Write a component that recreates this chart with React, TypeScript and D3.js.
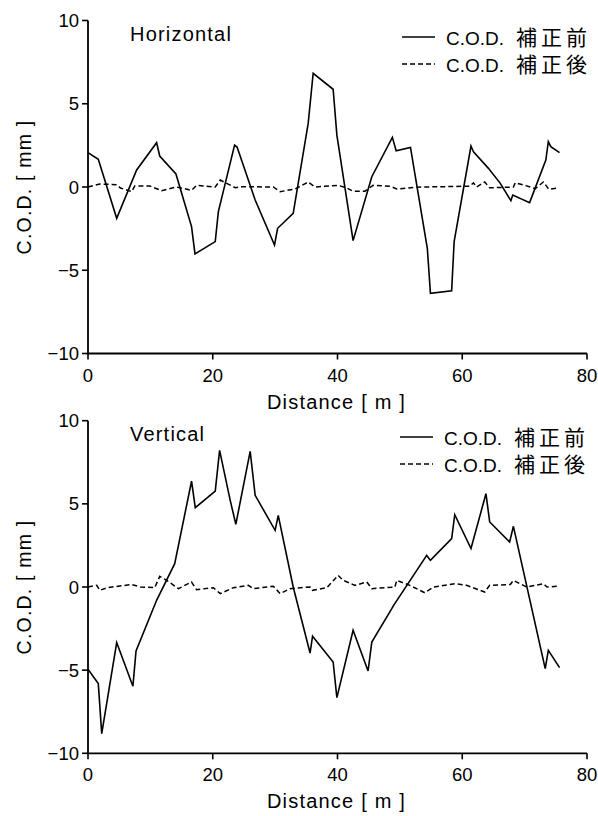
import React from "react";
import * as d3 from "d3";

// distance [m] / C.O.D. [mm] pairs
const horizBeforeX = [0, 1.65, 4.6, 7.8, 11.0, 11.5, 14.1, 16.6, 17.15, 20.4, 20.9, 23.5, 23.9, 26.8, 29.9, 30.4, 32.9, 35.3, 36.1, 39.3, 39.9, 42.5, 45.5, 48.8, 49.4, 51.7, 54.4, 54.9, 58.3, 58.7, 61.4, 61.8, 64.2, 66.1, 67.8, 68.1, 70.8, 73.4, 73.8, 74.2, 75.6];
const horizBeforeY = [2.06, 1.66, -1.88, 1.02, 2.66, 1.86, 0.78, -2.38, -4.02, -3.28, -1.48, 2.52, 2.4, -0.78, -3.48, -2.48, -1.58, 3.82, 6.83, 5.87, 3.12, -3.22, 0.62, 2.98, 2.18, 2.38, -3.68, -6.39, -6.23, -3.28, 2.46, 2.12, 1.12, 0.22, -0.82, -0.48, -0.94, 1.62, 2.72, 2.42, 2.06];
const horizAfterX = [0, 1.9, 4.6, 5.2, 7.0, 7.5, 9.9, 11.8, 14.2, 16.6, 17.4, 20.4, 21.2, 23.6, 24.5, 29.7, 30.8, 33.2, 35.3, 36.4, 40.1, 41.5, 42.5, 44.4, 45.7, 48.4, 49.5, 52.7, 61.2, 61.8, 62.3, 63.6, 64.4, 68.2, 68.5, 70.9, 71.7, 73.0, 73.9, 75.4];
const horizAfterY = [0, 0.18, 0.14, -0.06, -0.28, 0.06, 0.06, -0.22, 0, -0.2, 0.1, 0, 0.42, -0.04, 0.02, 0, -0.28, -0.12, 0.3, 0, 0.1, -0.06, -0.25, -0.25, 0.1, 0.05, -0.12, -0.01, 0.05, 0.25, 0, 0.3, -0.05, 0, 0.26, 0, -0.1, 0.3, -0.14, -0.06];

const vertBeforeX = [0, 1.65, 2.2, 4.6, 7.2, 7.7, 11.0, 13.9, 16.6, 17.2, 20.4, 21.1, 22.8, 23.7, 26.0, 26.8, 30.0, 30.5, 32.9, 35.6, 36.0, 39.3, 39.9, 42.5, 44.9, 45.5, 48.7, 49.0, 54.3, 54.9, 58.3, 58.8, 61.4, 63.8, 64.4, 67.6, 68.2, 73.3, 73.8, 75.6];
const vertBeforeY = [-4.95, -5.81, -8.82, -3.34, -5.97, -3.85, -0.8, 1.4, 6.36, 4.77, 5.77, 8.22, 5.21, 3.77, 8.16, 5.51, 3.41, 4.31, 0, -3.97, -2.96, -4.51, -6.65, -2.6, -5.05, -3.31, -1.3, -1.1, 1.9, 1.6, 2.91, 4.35, 2.31, 5.61, 3.91, 2.71, 3.65, -4.91, -3.81, -4.85];
const vertAfterX = [0, 1.4, 1.9, 3.1, 7.0, 8.4, 10.7, 11.5, 12.6, 14.5, 16.6, 17.4, 20.1, 21.2, 23.3, 25.7, 26.5, 29.7, 30.8, 32.4, 35.6, 36.0, 38.3, 40.1, 40.9, 42.8, 44.7, 45.5, 49.2, 49.5, 51.6, 54.0, 55.4, 58.8, 60.7, 63.6, 64.4, 67.7, 68.2, 70.3, 73.0, 73.6, 75.4];
const vertAfterY = [0, 0.1, -0.2, -0.04, 0.15, 0, -0.04, 0.64, 0.4, -0.1, 0.3, -0.16, -0.04, -0.4, -0.04, 0.1, -0.1, 0.05, -0.4, -0.1, 0, -0.2, -0.04, 0.7, 0.4, 0.1, 0.3, -0.1, 0, 0.4, 0.1, -0.35, 0, 0.2, 0.1, -0.3, 0.1, 0.15, 0.4, 0, 0.2, 0, 0.05];

const xTicks = [0, 20, 40, 60, 80];
const yTicks = [-10, -5, 0, 5, 10];
const legendLabels = ["C.O.D.", "補正前", "補正後"];

const FONT = "'Liberation Sans', 'Noto Sans CJK JP', sans-serif";

type PanelProps = {
  top: number;
  bottom: number;
  title: string;
  before: [number, number][];
  after: [number, number][];
  legendX: number;
  legendY: number;
};

const zip = (xs: number[], ys: number[]) => xs.map((x, i) => [x, ys[i]] as [number, number]);

const Panel = ({ top, bottom, title, before, after, legendX, legendY }: PanelProps) => {
  const x = d3.scaleLinear().domain([0, 80]).range([88, 587]);
  const y = d3.scaleLinear().domain([-10, 10]).range([bottom, top]);
  const line = d3
    .line<[number, number]>()
    .x((d) => x(d[0]))
    .y((d) => y(d[1]));

  return (
    <g fontFamily={FONT} fill="#000">
      <path d={line(after) || ""} fill="none" stroke="#000" strokeWidth={1.5} strokeDasharray="5,3" />
      <path d={line(before) || ""} fill="none" stroke="#000" strokeWidth={1.6} />

      {/* axes */}
      <line x1={x(0)} x2={x(0)} y1={top} y2={bottom} stroke="#000" strokeWidth={1.8} />
      <line x1={x(0)} x2={x(80)} y1={bottom} y2={bottom} stroke="#000" strokeWidth={1.8} />
      {yTicks.map((t) => (
        <g key={"y" + t}>
          <line x1={x(0) - 6} x2={x(0)} y1={y(t)} y2={y(t)} stroke="#000" strokeWidth={1.6} />
          <text x={79} y={y(t) + 6.5} textAnchor="end" fontSize={18.5}>
            {t < 0 ? "\u2212" + Math.abs(t) : t}
          </text>
        </g>
      ))}
      {xTicks.map((t) => (
        <g key={"x" + t}>
          <line x1={x(t)} x2={x(t)} y1={bottom} y2={bottom + 6} stroke="#000" strokeWidth={1.6} />
          <text x={x(t)} y={bottom + 28} textAnchor="middle" fontSize={18.5}>
            {t}
          </text>
        </g>
      ))}

      <text x={336.5} y={bottom + 55} textAnchor="middle" fontSize={20} letterSpacing={1.2}>
        Distance [ m ]
      </text>
      <text
        transform={`translate(31,${(top + bottom) / 2}) rotate(-90)`}
        textAnchor="middle"
        fontSize={19.5}
        letterSpacing={1.2}
      >
        C.O.D. [ mm ]
      </text>
      <text x={130} y={top + 20} fontSize={20} letterSpacing={1.2}>
        {title}
      </text>

      {/* legend */}
      {[0, 1].map((i) => (
        <g key={"lg" + i} transform={`translate(${legendX},${legendY + i * 27})`}>
          <line
            x1={0}
            x2={33}
            y1={0}
            y2={0}
            stroke="#000"
            strokeWidth={1.5}
            strokeDasharray={i === 1 ? "5,3" : undefined}
          />
          <text x={44} y={8} fontSize={19}>
            {legendLabels[0]}
          </text>
          <text x={114} y={8} fontSize={21} letterSpacing={4}>
            {legendLabels[i + 1]}
          </text>
        </g>
      ))}
    </g>
  );
};

export default function App() {
  return (
    <svg
      width={598}
      height={816}
      style={{ position: "absolute", left: 0, top: 0, background: "#fff" }}
    >
      <Panel
        top={20.5}
        bottom={353.5}
        title="Horizontal"
        before={zip(horizBeforeX, horizBeforeY)}
        after={zip(horizAfterX, horizAfterY)}
        legendX={402}
        legendY={37}
      />
      <Panel
        top={420.7}
        bottom={753.3}
        title="Vertical"
        before={zip(vertBeforeX, vertBeforeY)}
        after={zip(vertAfterX, vertAfterY)}
        legendX={400}
        legendY={437}
      />
    </svg>
  );
}
